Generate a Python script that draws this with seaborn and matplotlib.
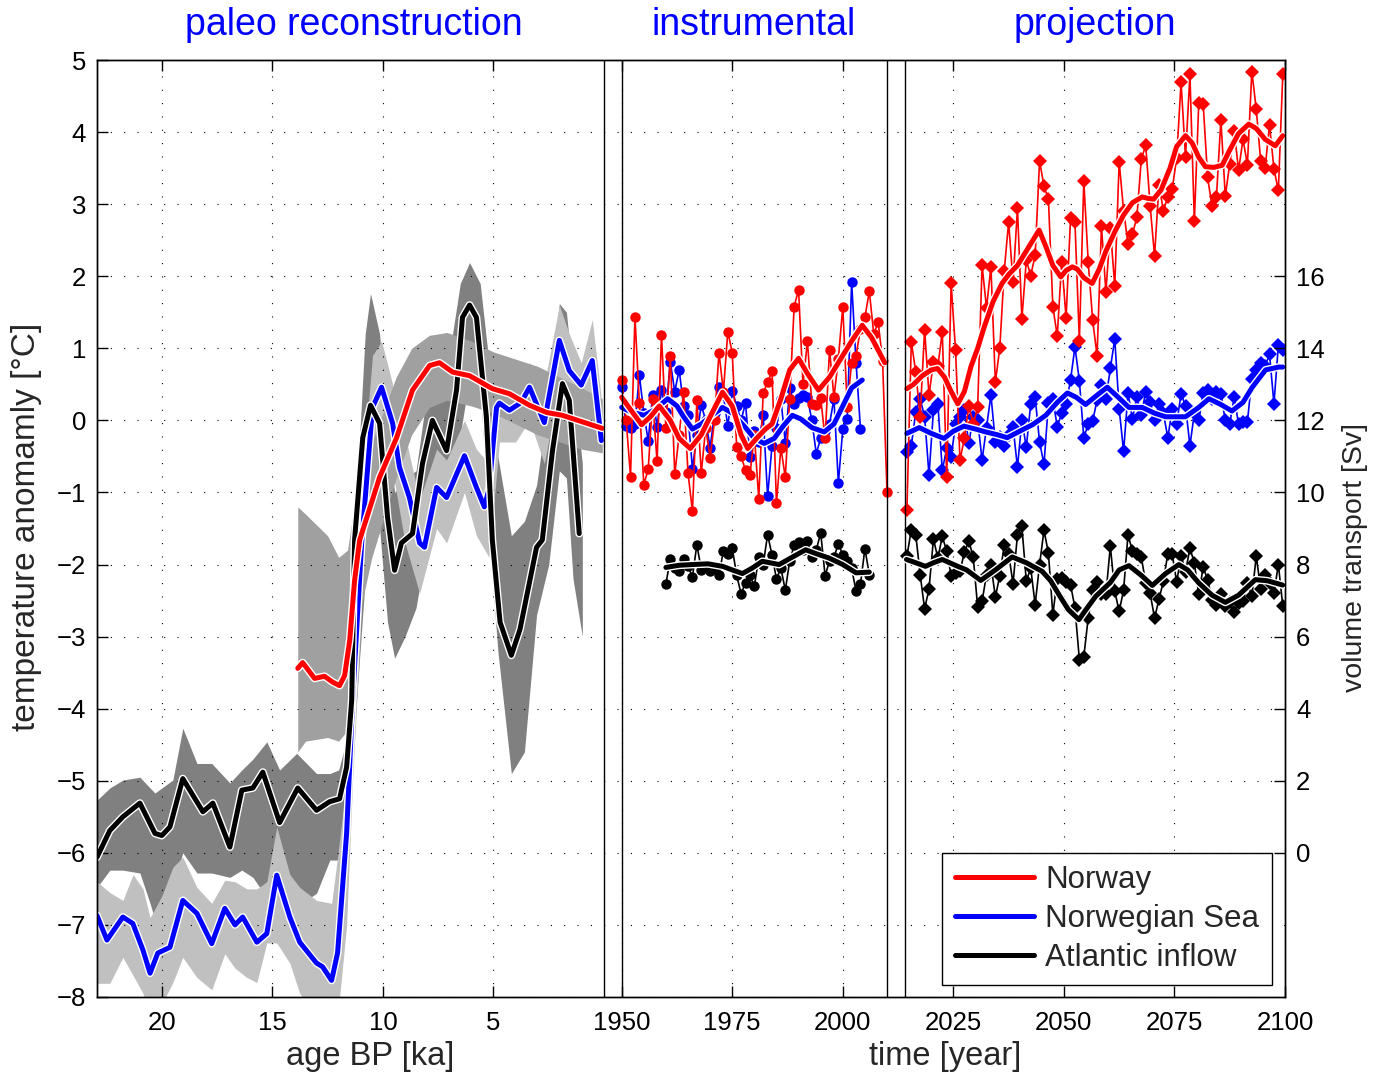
import numpy as np
import pandas as pd
import matplotlib
matplotlib.use('Agg')
import matplotlib.pyplot as plt
import matplotlib.patheffects as pe
from matplotlib.lines import Line2D
import seaborn as sns

# ---------------- paleo reconstruction (age in ka BP) ----------------
paleo_black_ka = [22.93, 22.35, 21.76, 20.99, 20.31, 20.0, 19.63, 19.05, 18.14, 17.69, 16.92, 16.38,
                  15.88, 15.43, 14.67, 13.85, 13.0, 12.41, 11.96, 11.64, 11.41, 11.28, 10.91, 10.56,
                  10.15, 9.79, 9.47, 9.16, 8.66, 8.21, 7.76, 7.12, 6.67, 6.40, 6.08, 5.77, 5.32, 5.05,
                  4.7, 4.19, 3.8, 3.05, 2.79, 2.33, 1.88, 1.57, 1.12]
paleo_black_T = [-6.06, -5.69, -5.50, -5.31, -5.73, -5.76, -5.64, -4.97, -5.43, -5.31, -5.92, -5.13,
                 -5.10, -4.88, -5.58, -5.10, -5.41, -5.29, -5.25, -4.81, -3.88, -1.66, -0.24, 0.21,
                 -0.04, -1.34, -2.08, -1.70, -1.57, -0.60, 0.00, -0.42, 0.42, 1.43, 1.60, 1.43, 0.05, -1.66,
                 -2.8, -3.26, -2.9, -1.76, -1.66, -0.42, 0.51, 0.28, -1.57]

paleo_blue_ka = [22.93, 22.48, 21.76, 21.31, 20.85, 20.53, 20.18, 19.63, 19.05, 18.41, 17.74, 17.15,
                 16.69, 16.34, 15.70, 15.25, 14.80, 14.21, 13.76, 13.0, 12.73, 12.32, 12.05, 11.64,
                 11.37, 10.96, 10.47, 10.06, 9.56, 9.25, 8.80, 8.34, 8.12, 7.57, 7.12, 6.31, 5.77,
                 5.41, 5.2, 4.86, 4.73, 4.28, 3.74, 3.37, 2.70, 2.02, 1.57, 1.03, 0.53, 0.12]
paleo_blue_T = [-6.87, -7.21, -6.89, -6.98, -7.35, -7.67, -7.39, -7.31, -6.66, -6.84, -7.26, -6.77,
                -7.00, -6.89, -7.24, -7.12, -6.31, -6.89, -7.24, -7.53, -7.58, -7.77, -7.39, -5.73,
                -3.88, -1.70, 0.18, 0.46, -0.04, -0.65, -1.07, -1.70, -1.76, -0.93, -1.07, -0.49, -0.93,
                -1.20, -0.95, 0.18, 0.24, 0.14, 0.25, 0.46, -0.03, 1.11, 0.69, 0.49, 0.83, -0.28]

paleo_red_ka = [13.85, 13.63, 13.09, 12.64, 12.28, 11.96, 11.73, 11.50, 11.28, 11.05, 10.15, 9.38,
                8.66, 7.89, 7.44, 6.85, 6.08, 5.05, 4.28, 3.37, 2.60, 1.88, 0.98, 0.08]
paleo_red_T = [-3.44, -3.36, -3.58, -3.55, -3.63, -3.68, -3.54, -3.05, -2.22, -1.66, -0.79, -0.24,
               0.42, 0.76, 0.80, 0.67, 0.62, 0.44, 0.37, 0.21, 0.11, 0.07, -0.02, -0.11]

# uncertainty bands
band_black_ka = [22.93, 22.35, 21.76, 20.99, 20.53, 20.31, 20.0, 19.5, 19.05, 18.41, 17.74, 16.92,
                 16.38, 15.88, 15.25, 14.67, 13.9, 13.0, 12.4, 12.0, 11.7, 11.4, 11.1, 10.8, 10.56,
                 10.15, 9.79, 9.47, 9.0, 8.5, 8.0, 7.5, 7.0, 6.5, 6.08, 5.6, 5.2, 4.8, 4.19, 3.6,
                 3.05, 2.5, 2.02, 1.7, 1.4, 0.98]
band_black_hi = [-5.27, -5.1, -4.99, -4.95, -5.1, -5.17, -5.1, -4.99, -4.27, -4.76, -4.76, -5.03,
                 -4.85, -4.7, -4.46, -4.85, -4.62, -4.9, -4.9, -4.85, -4.5, -3.0, -0.5, 1.2, 1.76,
                 1.2, -0.2, -1.0, -0.8, -0.7, 0.4, 1.0, 0.9, 1.9, 2.19, 1.9, 0.8, -0.5, -1.6, -1.4,
                 -0.9, 0.3, 1.62, 1.5, 0.6, -0.6]
band_black_lo = [-6.48, -6.24, -6.24, -6.28, -6.7, -6.93, -6.84, -6.48, -6.0, -6.28, -6.28, -6.34,
                 -6.24, -6.34, -6.62, -6.52, -6.75, -6.56, -6.1, -6.1, -5.6, -4.8, -3.5, -2.2, -1.3,
                 -1.5, -2.8, -3.3, -3.0, -2.6, -1.7, -1.1, -1.4, -0.2, 0.6, 0.5, -1.6, -3.2, -4.9,
                 -4.6, -2.7, -2.0, -0.7, -0.8, -2.2, -3.0]

band_blue_ka = [22.93, 22.35, 21.76, 21.3, 20.85, 20.53, 20.0, 19.5, 19.05, 18.41, 17.74, 17.15,
                16.69, 16.15, 15.7, 15.25, 14.8, 14.21, 13.76, 13.0, 12.32, 12.05, 11.64, 11.37,
                10.96, 10.47, 10.06, 9.56, 9.0, 8.34, 7.57, 7.12, 6.31, 5.77, 5.2, 4.73, 4.0, 3.37,
                2.7, 2.02, 1.57, 1.03, 0.53, 0.12]
band_blue_hi = [-6.4, -6.55, -6.66, -6.3, -6.5, -6.9, -6.6, -6.2, -6.06, -6.48, -6.7, -6.38,
                -6.4, -6.5, -6.5, -6.4, -5.64, -6.3, -6.48, -6.66, -6.7, -6.06, -5.0, -3.0,
                -0.9, 0.9, 1.1, 0.5, -0.2, -1.1, -0.4, -0.55, 0.0, -0.4, -0.6, 0.5, 0.6, 0.8,
                0.5, 1.6, 1.2, 0.8, 1.4, 0.3]
band_blue_lo = [-7.81, -7.81, -7.45, -7.7, -7.95, -8.3, -8.1, -7.8, -7.45, -7.73, -7.9, -7.4,
                -7.6, -7.73, -7.8, -7.25, -7.25, -7.53, -7.95, -8.3, -8.4, -8.3, -7.0, -5.0,
                -2.6, -0.5, -0.2, -0.7, -1.7, -2.4, -1.5, -1.7, -1.0, -1.6, -1.9, -0.3, -0.3, 0.0,
                -0.6, 0.5, 0.2, 0.0, 0.2, -0.45]

band_red_ka = [13.85, 13.5, 12.5, 12.0, 11.6, 11.3, 11.0, 10.5, 10.0, 9.4, 8.7, 7.9, 7.1, 6.0,
               5.0, 4.0, 3.0, 2.0, 1.0, 0.08]
band_red_hi = [-1.2, -1.3, -1.6, -1.9, -1.8, -1.2, -0.8, -0.3, 0.1, 0.6, 1.0, 1.18, 1.22, 1.1,
               0.95, 0.85, 0.75, 0.6, 0.45, 0.3]
band_red_lo = [-4.6, -4.45, -4.4, -4.45, -4.3, -3.3, -2.6, -1.9, -1.4, -0.8, -0.2, 0.18, 0.28,
               0.2, 0.1, -0.05, -0.2, -0.3, -0.4, -0.45]

# ---------------- instrumental (years) ----------------
inst_red_years = list(range(1950, 2011))
inst_red_T = [0.56, 0.01, -0.78, 1.44, 0.24, -0.89, -0.68, 0.29, -0.57, 1.18,
              -0.1, 0.89, -0.75, -0.2, 0.39, -0.73, -1.26, 0.28, -0.73, -0.1,
              -0.52, 0.0, 0.94, 0.4, 1.23, 0.94, -0.37, -0.5, -0.69, -0.76,
              -0.2, -1.09, 0.38, 0.53, 0.68, -1.15, -0.38, -0.79, 0.3, 1.58,
              1.81, 0.5, 1.1, 0.23, 0.21, 0.31, -0.25, 0.98, 0.32, 0.85,
              1.58, 0.18, 0.8, 0.9, 1.27, 1.43, 1.79, 1.2, 1.36, 0.83, -0.99]
inst_blue_years = list(range(1950, 2005))
inst_blue_T = [0.47, -0.08, -0.1, -0.05, 0.63, 0.1, -0.28, 0.35, -0.09, 0.42,
               0.12, 0.81, 0.4, 0.70, 0.2, 0.07, -0.67, -0.2, 0.21, 0.0,
               -0.38, 0.1, 0.46, 0.35, -0.08, 0.41, 0.2, 0.0, 0.24, -0.51,
               -0.15, -0.3, 0.07, -1.05, -0.35, -0.1, 0.3, -0.31, 0.45, 0.23,
               0.31, 0.35, 0.32, 0.0, -0.46, -0.25, -0.15, -0.05, 0.3, -0.87,
               -0.12, 0.02, 1.92, 0.80, -0.12]
inst_black_years = list(range(1960, 2007))
inst_black_Sv = [7.46, 8.16, 7.9, 7.81, 8.14, 7.95, 7.66, 8.55, 7.86, 8.0,
                 7.81, 7.9, 7.72, 8.37, 8.3, 8.46, 7.7, 7.19, 7.49, 7.7,
                 7.40, 8.2, 8.0, 8.83, 8.26, 7.6, 7.9, 7.29, 8.1, 8.53,
                 8.62, 8.4, 8.65, 8.2, 8.4, 8.88, 7.69, 8.1, 8.2, 8.58,
                 8.26, 8.1, 7.9, 7.26, 7.46, 8.44, 7.72]

inst_red_smooth_yr = [1950, 1952, 1954.5, 1956.5, 1958.5, 1961, 1963, 1965.5, 1968, 1970, 1972.8,
                      1975, 1977, 1978.5, 1980.5, 1982.5, 1984, 1986, 1988, 1990, 1992, 1994.5,
                      1997, 1999, 2002, 2004.4, 2006.5, 2009.5]
inst_red_smooth_T = [0.32, 0.15, -0.06, 0.05, 0.2, 0.0, -0.25, -0.39, -0.2, 0.05, 0.39,
                     0.2, -0.2, -0.39, -0.25, -0.12, -0.05, 0.3, 0.7, 0.86, 0.65, 0.42,
                     0.6, 0.8, 1.1, 1.32, 1.15, 0.8]
inst_blue_smooth_yr = [1950, 1952, 1955.1, 1957.5, 1960.4, 1962.5, 1964, 1966, 1968, 1970, 1972.8,
                       1975, 1978, 1980, 1982.2, 1984.5, 1986.5, 1988.6, 1990.5, 1993, 1995.8,
                       1998, 2000, 2002, 2004.4]
inst_blue_smooth_T = [0.18, 0.12, 0.07, 0.15, 0.3, 0.2, 0.05, -0.12, -0.05, 0.05, 0.18,
                      0.1, -0.1, -0.25, -0.32, -0.25, -0.08, 0.07, 0.02, -0.1, -0.16,
                      -0.05, 0.2, 0.45, 0.56]
inst_black_smooth_yr = [1960, 1963, 1966, 1969.5, 1972.8, 1975, 1977.3, 1979.5, 1981.8, 1985.6,
                        1988.5, 1991.6, 1994, 1996.9, 2000, 2003, 2006]
inst_black_smooth_Sv = [7.92, 7.98, 8.0, 8.02, 7.95, 7.85, 7.75, 7.9, 8.09, 8.0,
                        8.2, 8.41, 8.3, 8.18, 8.0, 7.77, 7.79]

# ---------------- projection (years) ----------------
proj_years = np.arange(2014, 2100) + 0.5
proj_red_T = [-1.25, 1.09, 0.67, 0.05, 1.26, 0.35, 0.81, 0.75, 1.23, -0.79,
              1.90, 0.97, -0.55, -0.25, 0.2, -0.05, 0.18, 2.15, 1.56, 2.13,
              0.53, 1.0, 2.07, 2.75, 1.92, 2.94, 1.41, 2.22, 2.01, 2.29,
              3.6, 3.25, 3.07, 1.58, 1.17, 2.2, 1.42, 2.81, 2.75, 1.1,
              3.32, 2.2, 1.39, 0.9, 2.69, 1.78, 2.67, 1.86, 3.59, 2.91,
              2.45, 2.58, 2.82, 3.62, 3.82, 2.98, 2.28, 3.27, 2.91, 3.1,
              3.21, 3.64, 4.69, 3.65, 4.8, 2.76, 4.41, 4.39, 3.37, 2.97,
              3.1, 4.17, 3.11, 3.56, 4.02, 3.47, 3.9, 3.55, 4.84, 4.32,
              3.6, 3.5, 4.1, 3.49, 3.19, 4.8]
proj_blue_T = [-0.44, -0.35, 0.12, 0.3, 0.05, -0.76, 0.14, 0.23, -0.69, -0.39,
               -0.51, -0.05, 0.05, 0.14, -0.32, 0.05, 0.0, -0.55, -0.1, 0.35,
               -0.3, -0.23, -0.35, -0.2, -0.09, -0.65, 0.0, -0.37, 0.23, 0.32,
               -0.3, -0.61, 0.24, 0.3, -0.09, 0.1, 0.23, 0.56, 1.02, 0.55,
               -0.24, -0.05, -0.01, 0.28, 0.49, 0.3, 0.72, 1.13, 0.16, -0.43,
               0.38, 0.02, 0.32, 0.07, 0.4, 0.25, 0.0, 0.23, 0.1, -0.24,
               0.16, -0.05, 0.37, 0.2, -0.35, 0.1, 0.01, 0.38, 0.42, 0.3,
               0.39, 0.37, 0.0, -0.05, 0.32, -0.05, -0.02, -0.02, 0.58, 0.7,
               0.79, 0.75, 0.92, 0.23, 1.04, 0.97]
proj_black_Sv = [8.23, 8.97, 8.83, 7.72, 6.77, 7.32, 8.71, 8.18, 8.78, 8.37,
                 7.69, 7.77, 7.81, 8.34, 8.65, 8.21, 6.82, 6.98, 7.72, 8.0,
                 7.1, 7.69, 8.53, 8.3, 7.47, 8.83, 9.06, 7.54, 7.9, 6.89,
                 8.0, 8.95, 8.32, 6.61, 7.6, 7.63, 7.51, 7.44, 6.8, 5.36,
                 5.44, 6.52, 7.3, 7.51, 7.19, 7.17, 8.51, 7.26, 6.7, 7.29,
                 8.83, 8.37, 8.28, 8.21, 7.49, 7.2, 6.52, 7.03, 7.54, 8.3,
                 8.28, 7.51, 8.25, 7.79, 8.46, 8.04, 7.17, 7.93, 7.58, 7.01,
                 6.89, 7.19, 6.84, 6.95, 6.68, 6.93, 6.98, 7.49, 7.12, 8.23,
                 7.32, 7.72, 7.5, 7.21, 8.0, 6.85]

proj_red_smooth_yr = [2014.5, 2016, 2018, 2020, 2021.4, 2023, 2024.5, 2026, 2027.5, 2029, 2030.5,
                      2032, 2034, 2036, 2037.6, 2039.5, 2041, 2042.5, 2044.4, 2046, 2047.5,
                      2049.3, 2050.5, 2051.9, 2053, 2054.5, 2056.4, 2058, 2059.5, 2061.7, 2063.5,
                      2065.5, 2067.7, 2069, 2070.3, 2072, 2074, 2075.5, 2077.5, 2079, 2080.5,
                      2082, 2083.9, 2085.8, 2087.5, 2089.5, 2091.8, 2093.5, 2095.5, 2097.8, 2099.5]
proj_red_smooth_T = [0.44, 0.5, 0.62, 0.7, 0.72, 0.6, 0.4, 0.23, 0.4, 0.75, 1.0,
                     1.3, 1.65, 1.9, 2.03, 2.15, 2.3, 2.45, 2.64, 2.4, 2.15,
                     1.99, 2.08, 2.13, 2.1, 1.98, 1.9, 2.1, 2.35, 2.64, 2.85,
                     3.02, 3.1, 3.08, 3.07, 3.2, 3.5, 3.8, 3.95, 3.85, 3.65,
                     3.52, 3.51, 3.54, 3.75, 3.98, 4.11, 4.05, 3.9, 3.81, 3.95]
proj_blue_smooth_yr = [2014.5, 2017.3, 2020, 2022.9, 2025, 2027.4, 2030, 2032.3, 2035, 2037.2, 2040,
                       2042.9, 2045.9, 2048.5, 2050.8, 2052.8, 2054.9, 2057.5, 2059.8, 2062.3,
                       2064.7, 2067.7, 2070.5, 2073, 2077.5, 2080.5, 2082.8, 2085.5, 2088, 2090.5,
                       2092.6, 2095.6, 2098.6, 2099.5]
proj_blue_smooth_T = [-0.18, -0.1, -0.18, -0.25, -0.15, -0.08, -0.12, -0.16, -0.2, -0.24, -0.15,
                      -0.06, 0.07, 0.25, 0.38, 0.32, 0.22, 0.35, 0.46, 0.32,
                      0.18, 0.18, 0.1, 0.05, 0.05, 0.18, 0.3, 0.22, 0.13, 0.25,
                      0.46, 0.7, 0.74, 0.74]
proj_black_smooth_yr = [2014.4, 2016.5, 2018.7, 2020.5, 2022.5, 2026, 2028, 2031.2, 2034.5, 2038.3,
                        2041.5, 2045.1, 2047, 2049.2, 2051, 2053.4, 2055, 2057.2, 2060.5, 2062.5,
                        2064.7, 2067.5, 2070, 2073, 2076, 2078, 2080.5, 2083.5, 2086.5, 2089.5,
                        2093.3, 2096, 2099.5]
proj_black_smooth_Sv = [8.14, 8.05, 7.95, 8.05, 8.14, 7.95, 7.85, 7.56, 7.85, 8.21,
                        8.05, 7.81, 7.55, 7.1, 6.75, 6.47, 6.75, 7.12, 7.5, 7.85,
                        7.97, 7.7, 7.42, 7.75, 8.0, 7.85, 7.49, 7.15, 6.95, 7.15,
                        7.58, 7.55, 7.43]

xtick_pos_ka = [20, 15, 10, 5]
xtick_pos_yr = [1950, 1975, 2000, 2025, 2050, 2075, 2100]
separator_years = [1946, 1950, 2010, 2014]
legend_labels = ['Norway', 'Norwegian Sea', 'Atlantic inflow']
panel_titles = ['paleo reconstruction', 'instrumental', 'projection']


def paleo_x(ka):
    # paleo axis: 0 ka sits at 1946, 1 ka takes the width of 5 years
    return 1946 - 5 * np.asarray(ka, dtype=float)


sns.set_style('ticks', {'axes.edgecolor': 'black', 'xtick.color': 'black', 'ytick.color': 'black',
                        'xtick.direction': 'in', 'ytick.direction': 'in'})
plt.rcParams['font.family'] = ['Liberation Sans', 'DejaVu Sans']

fig = plt.figure(figsize=(13.8, 10.75), dpi=100)
ax = fig.add_axes([97 / 1380, 78 / 1075, 1188 / 1380, 937 / 1075])

halo = lambda w: [pe.Stroke(linewidth=w + 2.0, foreground='white'), pe.Normal()]
RED, BLUE, BLACK = (1, 0, 0), (0, 0, 1), (0, 0, 0)
THICK = 3.6

# bands
ax.fill_between(paleo_x(band_black_ka), band_black_lo, band_black_hi, color='#808080', lw=0, zorder=1)
ax.fill_between(paleo_x(band_blue_ka), band_blue_lo, band_blue_hi, color='#c0c0c0', lw=0, zorder=1.1)
ax.fill_between(paleo_x(band_red_ka), band_red_lo, band_red_hi, color='#a0a0a0', lw=0, zorder=1.2)

def line(axx, x, y, color, lw, z, **kw):
    sns.lineplot(x=np.asarray(x, dtype=float), y=np.asarray(y, dtype=float), ax=axx, color=color,
                 lw=lw, sort=False, estimator=None, zorder=z, legend=False, **kw)

# paleo curves
line(ax, paleo_x(paleo_blue_ka), paleo_blue_T, BLUE, THICK, 4, path_effects=halo(THICK))
line(ax, paleo_x(paleo_black_ka), paleo_black_T, BLACK, THICK, 4.1, path_effects=halo(THICK))
line(ax, paleo_x(paleo_red_ka), paleo_red_T, RED, THICK, 4.2, path_effects=halo(THICK))

# instrumental
MS_O, MS_D = 7.5, 7.2
line(ax, inst_blue_years, inst_blue_T, BLUE, 1.2, 3, marker='o', markersize=MS_O, markeredgewidth=0)
line(ax, inst_red_years, inst_red_T, RED, 1.2, 3.1, marker='o', markersize=MS_O, markeredgewidth=0)
line(ax, inst_blue_smooth_yr, inst_blue_smooth_T, BLUE, THICK, 5, path_effects=halo(THICK))
line(ax, inst_red_smooth_yr, inst_red_smooth_T, RED, THICK, 5.1, path_effects=halo(THICK))

# projection
line(ax, proj_years, proj_blue_T, BLUE, 1.2, 3, marker='D', markersize=MS_D, markeredgewidth=0)
line(ax, proj_years, proj_red_T, RED, 1.2, 3.1, marker='D', markersize=MS_D, markeredgewidth=0)
line(ax, proj_blue_smooth_yr, proj_blue_smooth_T, BLUE, THICK, 5, path_effects=halo(THICK))
line(ax, proj_red_smooth_yr, proj_red_smooth_T, RED, THICK, 5.1, path_effects=halo(THICK))

for xs in separator_years:
    ax.axvline(xs, color='k', lw=1.0, zorder=6)

ax.set_xlim(1831.35, 2100)
ax.set_ylim(-8, 5)
ax.set_yticks(np.arange(-8, 6, 1))
ax.set_yticklabels([('\u2212%d' % -v) if v < 0 else '%d' % v for v in range(-8, 6)])
xt = list(paleo_x(xtick_pos_ka)) + xtick_pos_yr
xl = [str(k) for k in xtick_pos_ka] + [str(y) for y in xtick_pos_yr]
ax.set_xticks(xt)
ax.set_xticklabels(xl)
ax.set_axisbelow(False)
ax.grid(True, color='k', lw=0.8, ls=(0, (1, 11)), zorder=2.5)
ax.tick_params(direction='in', length=8, width=1, top=True, right=False, labelsize=18.5,
               colors='black')
ax.tick_params(axis='x', pad=10)
ax.tick_params(axis='y', pad=8)
for s in ax.spines.values():
    s.set_linewidth(1.0)
    s.set_color('black')

# right axis: volume transport
ax2 = ax.twinx()
ax2.set_ylim(-4, 22)
ax2.set_yticks(np.arange(0, 17, 2))
line(ax2, inst_black_years, inst_black_Sv, BLACK, 1.2, 3, marker='o', markersize=MS_O, markeredgewidth=0)
line(ax2, proj_years, proj_black_Sv, BLACK, 1.2, 3, marker='D', markersize=MS_D, markeredgewidth=0)
line(ax2, inst_black_smooth_yr, inst_black_smooth_Sv, BLACK, THICK, 5, path_effects=halo(THICK))
line(ax2, proj_black_smooth_yr, proj_black_smooth_Sv, BLACK, THICK, 5, path_effects=halo(THICK))
ax2.set_xlim(1831.35, 2100)
ax2.tick_params(axis='y', direction='in', length=8, width=1, labelsize=18.5, pad=8, colors='black')
ax2.set_ylabel('')
ax.set_ylabel('')
ax.set_xlabel('')
for s in ax2.spines.values():
    s.set_linewidth(1.0)
    s.set_color('black')

handles = [Line2D([], [], color=c, lw=THICK, path_effects=halo(THICK)) for c in (RED, BLUE, BLACK)]
leg = ax2.legend(handles, legend_labels, loc='lower right', bbox_to_anchor=(0.989, 0.0128),
                 borderaxespad=0, fontsize=22.5, frameon=True, fancybox=False, framealpha=1,
                 edgecolor='black', handlelength=2.55, handletextpad=0.35, labelspacing=0.28,
                 borderpad=0.4)
leg.get_frame().set_linewidth(1.0)
leg.set_zorder(10)

# texts
fig.text(354 / 1380, 1 - 25 / 1075, panel_titles[0], color='blue', fontsize=27, ha='center', va='center')
fig.text(754 / 1380, 1 - 25 / 1075, panel_titles[1], color='blue', fontsize=27, ha='center', va='center')
fig.text(1095 / 1380, 1 - 25 / 1075, panel_titles[2], color='blue', fontsize=27, ha='center', va='center')
fig.text(370 / 1380, 1 - 1057 / 1075, 'age BP [ka]', fontsize=23.5, ha='center', va='center')
fig.text(945 / 1380, 1 - 1057 / 1075, 'time [year]', fontsize=23.5, ha='center', va='center')
fig.text(27 / 1380, 1 - 527 / 1075, 'temperature anomamly [°C]', fontsize=24, rotation=90,
         ha='center', va='center')
fig.text(1355 / 1380, 1 - 557 / 1075, 'volume transport [Sv]', fontsize=20.5, rotation=90,
         ha='center', va='center')

fig.savefig('out.png', dpi=100)
